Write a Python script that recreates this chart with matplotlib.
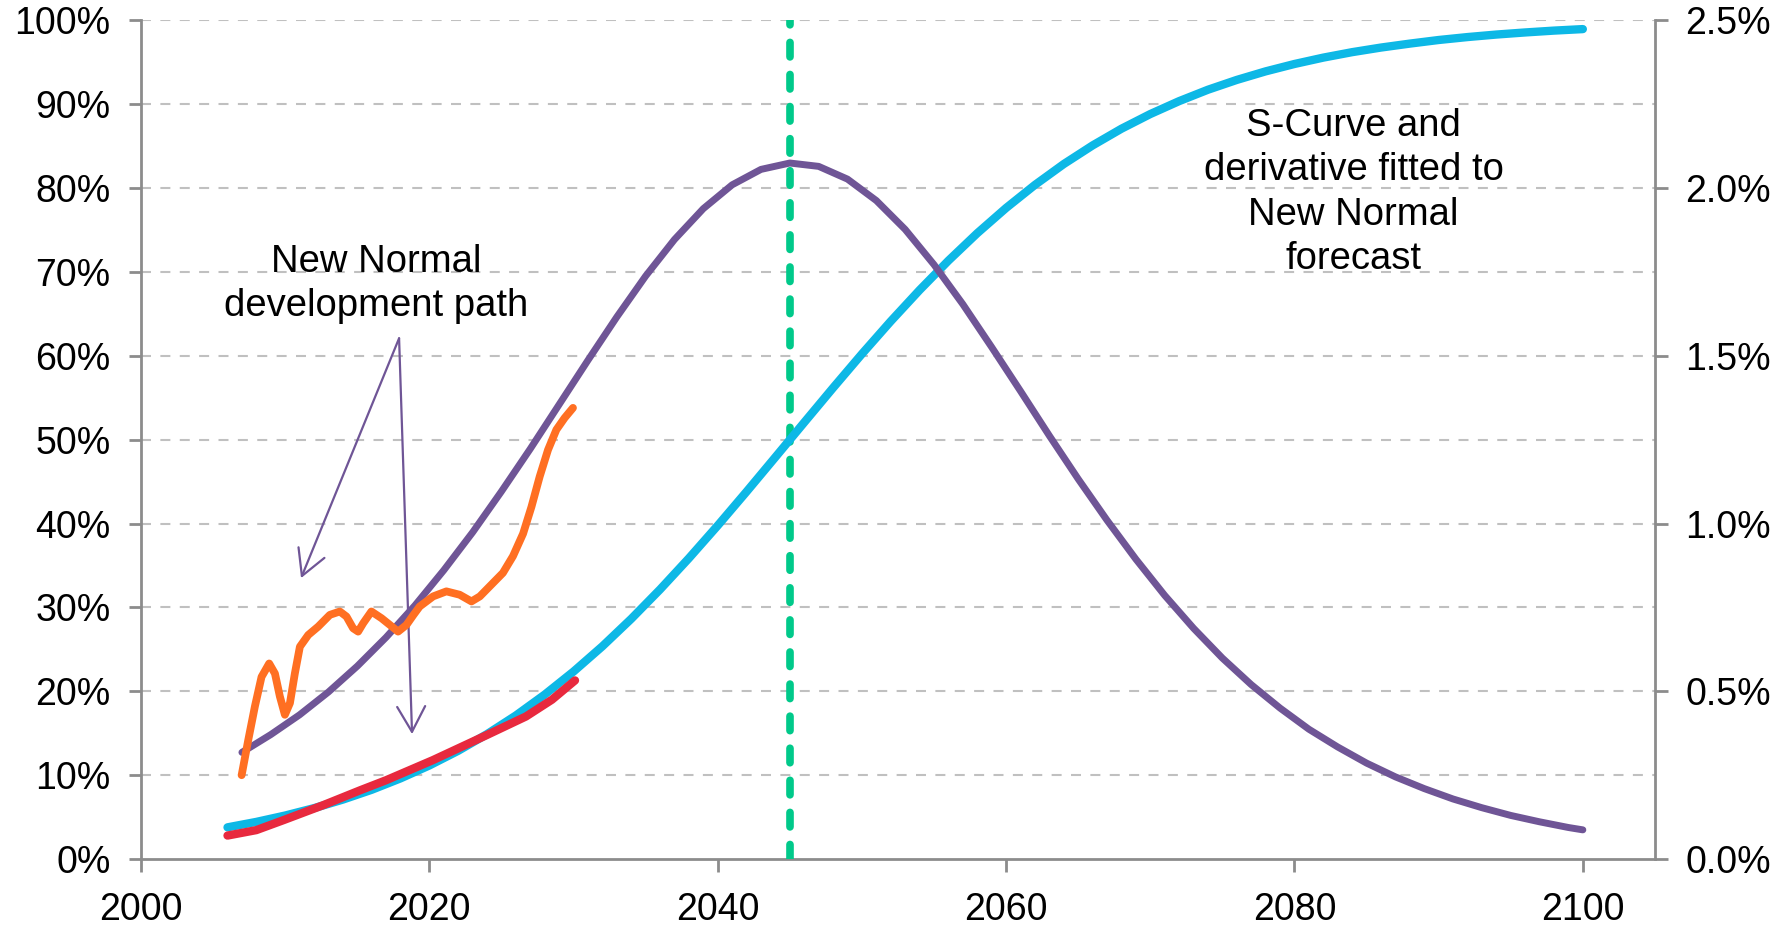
import matplotlib
matplotlib.use("Agg")
import matplotlib.pyplot as plt
from matplotlib.ticker import FuncFormatter

plt.rcParams['font.family'] = ['Liberation Sans', 'DejaVu Sans']

# ---- data ----
# S-curve (left axis, % penetration)
cyan_years = [2006, 2008, 2010, 2012, 2014, 2016, 2018, 2020, 2022, 2024, 2026, 2028,
              2030, 2032, 2034, 2036, 2038, 2040, 2042, 2044, 2046, 2048, 2050, 2052,
              2054, 2056, 2058, 2060, 2062, 2064, 2066, 2068, 2070, 2072, 2074, 2076,
              2078, 2080, 2082, 2084, 2086, 2088, 2090, 2092, 2094, 2096, 2098, 2100]
cyan_pct = [3.78, 4.43, 5.19, 6.07, 7.09, 8.26, 9.62, 11.16, 12.91, 14.90, 17.12, 19.61,
            22.36, 25.37, 28.64, 32.15, 35.87, 39.77, 43.81, 47.93, 52.07, 56.19, 60.23, 64.13,
            67.85, 71.36, 74.63, 77.64, 80.39, 82.88, 85.10, 87.09, 88.84, 90.38, 91.74, 92.91,
            93.93, 94.81, 95.57, 96.22, 96.77, 97.24, 97.67, 98.02, 98.32, 98.57, 98.79, 98.97]

# derivative of the S-curve (right axis, % per year)
purple_years = [2007, 2009, 2011, 2013, 2015, 2017, 2019, 2021, 2023, 2025, 2027, 2029,
                2031, 2033, 2035, 2037, 2039, 2041, 2043, 2045, 2047, 2049, 2051, 2053,
                2055, 2057, 2059, 2061, 2063, 2065, 2067, 2069, 2071, 2073, 2075, 2077,
                2079, 2081, 2083, 2085, 2087, 2089, 2091, 2093, 2095, 2097, 2099, 2100]
purple_pct = [0.318, 0.371, 0.430, 0.498, 0.575, 0.661, 0.756, 0.861, 0.974, 1.096, 1.223, 1.355,
              1.487, 1.616, 1.738, 1.847, 1.939, 2.010, 2.056, 2.075, 2.065, 2.027, 1.963, 1.877,
              1.772, 1.654, 1.526, 1.395, 1.262, 1.133, 1.010, 0.894, 0.786, 0.688, 0.599, 0.520,
              0.450, 0.387, 0.334, 0.286, 0.245, 0.210, 0.179, 0.153, 0.130, 0.111, 0.094, 0.087]

# New Normal development path, cumulative (left axis, %)
red_years = [2006.0, 2008.0, 2009.9, 2012.6, 2015.2, 2017.0, 2020.25, 2024.0, 2026.7, 2028.5, 2030.1]
red_pct = [2.8, 3.45, 4.65, 6.4, 8.2, 9.4, 11.8, 14.8, 17.0, 19.0, 21.3]

# New Normal development path, annual (right axis, % per year)
orange_years = [2006.98, 2007.44, 2007.9, 2008.36, 2008.89, 2009.29, 2009.63, 2009.98,
                2010.33, 2010.67, 2011.02, 2011.6, 2012.29, 2013.1, 2013.79, 2014.25,
                2014.71, 2015.06, 2015.41, 2015.98, 2016.68, 2017.26, 2017.83, 2018.41,
                2018.9, 2019.33, 2020.26, 2021.18, 2022.1, 2022.92, 2023.5, 2024.3,
                2025.1, 2025.8, 2026.5, 2027.08, 2027.65, 2028.23, 2028.81, 2029.38, 2029.96]
orange_pct = [0.250, 0.355, 0.455, 0.543, 0.583, 0.553, 0.485, 0.430,
              0.465, 0.553, 0.633, 0.668, 0.693, 0.728, 0.738, 0.723,
              0.688, 0.678, 0.703, 0.738, 0.718, 0.698, 0.678, 0.698,
              0.728, 0.753, 0.783, 0.798, 0.788, 0.768, 0.783, 0.818,
              0.853, 0.903, 0.970, 1.050, 1.140, 1.220, 1.280, 1.315, 1.345]

peak_year = 2045
x_ticks = [2000, 2020, 2040, 2060, 2080, 2100]
left_ticks = list(range(0, 101, 10))
right_ticks = [0.0, 0.5, 1.0, 1.5, 2.0, 2.5]

# ---- colours ----
C_CYAN = "#0DB8E6"
C_PURPLE = "#6F5596"
C_RED = "#E8293E"
C_ORANGE = "#FF6F22"
C_GREEN = "#00C98A"
C_AXIS = "#8C8C8C"
C_GRID = "#C0C0C0"

fig = plt.figure(figsize=(17.87, 9.30), dpi=100)
ax = fig.add_axes([0.0789, 0.0763, 0.8472, 0.9017])
ax2 = ax.twinx()

FS = 27
FS_TXT = 27.5

ax.set_xlim(2000, 2105)
ax.set_ylim(0, 100)
ax2.set_ylim(0, 2.5)

# grid
for v in left_ticks[1:]:
    ax.axhline(v, color=C_GRID, lw=1.5, dashes=(4.8, 4.5), zorder=0)

ax.set_xticks(x_ticks)
ax.set_yticks(left_ticks)
ax2.set_yticks(right_ticks)
ax.yaxis.set_major_formatter(FuncFormatter(lambda v, p: f"{int(v)}%"))
ax2.yaxis.set_major_formatter(FuncFormatter(lambda v, p: f"{v:.1f}%"))

for a in (ax, ax2):
    for s in a.spines.values():
        s.set_color(C_AXIS)
        s.set_linewidth(2)
    a.spines['top'].set_visible(False)
ax.spines['right'].set_visible(False)
ax2.spines['left'].set_visible(False)
ax2.spines['bottom'].set_visible(False)

ax.tick_params(axis='y', direction='out', length=9, width=2, color=C_AXIS, labelsize=FS, pad=13)
ax.tick_params(axis='x', direction='out', length=9, width=2, color=C_AXIS, labelsize=FS, pad=15)
ax2.tick_params(axis='y', direction='out', length=9, width=2, color=C_AXIS, labelsize=FS, pad=13)

# lines
ax.axvline(peak_year, ymin=0, ymax=1, color=C_GREEN, lw=5.5, dashes=(1.9, 2.3),
           dash_capstyle='round', zorder=3)
ax.plot(cyan_years, cyan_pct, color=C_CYAN, lw=6.0, solid_capstyle='round', zorder=4)
ax.plot(red_years, red_pct, color=C_RED, lw=6.0, solid_capstyle='round',
        solid_joinstyle='round', zorder=5)
ax2.plot(purple_years, purple_pct, color=C_PURPLE, lw=5.0, solid_capstyle='round',
         solid_joinstyle='round', zorder=4)
ax2.plot(orange_years, orange_pct, color=C_ORANGE, lw=5.6, solid_capstyle='round',
         solid_joinstyle='round', zorder=5)

# annotations
ax.text(2016.3, 68.6, "New Normal\ndevelopment path", ha='center', va='center',
        fontsize=FS_TXT, linespacing=1.30, zorder=6)
ax.text(2084.1, 79.5, "S-Curve and\nderivative fitted to\nNew Normal\nforecast",
        ha='center', va='center', fontsize=FS_TXT, linespacing=1.30, zorder=6)

arrow_kw = dict(arrowstyle='->,head_length=1.3,head_width=0.72', color=C_PURPLE, lw=1.6,
                shrinkA=0, shrinkB=0, mutation_scale=14)
ax.annotate("", xy=(2011.1, 33.5), xytext=(2017.9, 62.1), arrowprops=arrow_kw, zorder=6)
ax.annotate("", xy=(2018.8, 14.9), xytext=(2017.9, 62.1), arrowprops=arrow_kw, zorder=6)

fig.savefig("out.png", dpi=100)
